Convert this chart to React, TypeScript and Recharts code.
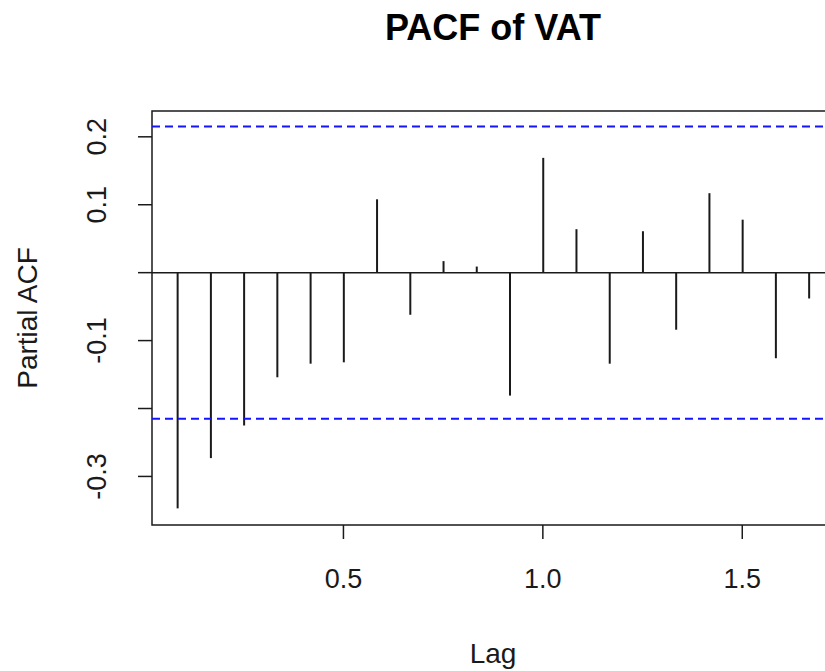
import {
  Bar,
  ComposedChart,
  ReferenceArea,
  ReferenceLine,
  XAxis,
  YAxis,
} from "recharts";

// lags in years (monthly series), partial autocorrelations at each lag
const lags = [
  0.0833, 0.1667, 0.25, 0.3333, 0.4167, 0.5, 0.5833, 0.6667, 0.75, 0.8333,
  0.9167, 1.0, 1.0833, 1.1667, 1.25, 1.3333, 1.4167, 1.5, 1.5833, 1.6667,
];
const pacf = [
  -0.347, -0.273, -0.225, -0.154, -0.134, -0.132, 0.108, -0.062, 0.017, 0.009,
  -0.181, 0.169, 0.064, -0.134, 0.061, -0.084, 0.117, 0.078, -0.126, -0.038,
];
const ciBound = 0.215;
const xTicks = [0.5, 1.0, 1.5];
const yTicks = [-0.3, -0.2, -0.1, 0, 0.1, 0.2];
const yLabelled = [-0.3, -0.1, 0.1, 0.2];

const X_DOMAIN: [number, number] = [0.02, 1.73];
const Y_DOMAIN: [number, number] = [-0.3715, 0.238];

const data = lags.map((lag, i) => ({ lag, pacf: pacf[i] }));

const FONT = "'Liberation Sans', Arial, sans-serif";
const INK = "#1a1a1a";

function XTick({ x, payload }: { x?: number; payload?: { value: number } }) {
  return (
    <text
      x={x}
      y={588}
      textAnchor="middle"
      fontFamily={FONT}
      fontSize={27}
      fill={INK}
    >
      {payload?.value.toFixed(1)}
    </text>
  );
}

function YTick({ y, payload }: { y?: number; payload?: { value: number } }) {
  const v = payload?.value ?? 0;
  if (!yLabelled.some((t) => Math.abs(t - v) < 1e-9)) return null;
  const bx = 106;
  return (
    <text
      x={bx}
      y={y}
      transform={`rotate(-90 ${bx} ${y})`}
      textAnchor="middle"
      fontFamily={FONT}
      fontSize={27}
      fill={INK}
    >
      {v.toFixed(1)}
    </text>
  );
}

export default function App() {
  return (
    <div
      style={{
        position: "absolute",
        left: 0,
        top: 0,
        width: 825,
        height: 671,
        overflow: "hidden",
        background: "#fff",
      }}
    >
      <div
        style={{
          position: "absolute",
          left: 0,
          top: 7,
          width: 986,
          textAlign: "center",
          fontFamily: FONT,
          fontWeight: "bold",
          fontSize: 36,
          color: "#000",
        }}
      >
        PACF of VAT
      </div>
      <ComposedChart
        width={845}
        height={671}
        data={data}
        margin={{ top: 111, right: 11, bottom: 0, left: 0 }}
      >
        <XAxis
          dataKey="lag"
          type="number"
          domain={X_DOMAIN}
          ticks={xTicks}
          allowDataOverflow
          axisLine={false}
          tickLine={{ stroke: INK, strokeWidth: 1.5 }}
          tickSize={14}
          height={146}
          tick={<XTick />}
          label={{
            value: "Lag",
            position: "insideBottom",
            offset: 8,
            fontFamily: FONT,
            fontSize: 28,
            fill: INK,
          }}
        />
        <YAxis
          type="number"
          domain={Y_DOMAIN}
          ticks={yTicks}
          allowDataOverflow
          axisLine={false}
          tickLine={{ stroke: INK, strokeWidth: 1.5 }}
          tickSize={14}
          width={152}
          tick={<YTick />}
          label={{
            content: () => (
              <text
                x={37}
                y={318}
                transform="rotate(-90 37 318)"
                textAnchor="middle"
                fontFamily={FONT}
                fontSize={28}
                fill={INK}
              >
                Partial ACF
              </text>
            ),
          }}
        />
        <ReferenceLine y={0} stroke={INK} strokeWidth={1.5} />
        <ReferenceLine
          y={ciBound}
          stroke="#1414ff"
          strokeWidth={2}
          strokeDasharray="8 5"
        />
        <ReferenceLine
          y={-ciBound}
          stroke="#1414ff"
          strokeWidth={2}
          strokeDasharray="8 5"
        />
        <Bar
          dataKey="pacf"
          fill={INK}
          barSize={2}
          isAnimationActive={false}
        />
        <ReferenceArea
          x1={X_DOMAIN[0]}
          x2={X_DOMAIN[1]}
          y1={Y_DOMAIN[0]}
          y2={Y_DOMAIN[1]}
          fill="none"
          fillOpacity={0}
          stroke={INK}
          strokeWidth={1.5}
        />
      </ComposedChart>
    </div>
  );
}
